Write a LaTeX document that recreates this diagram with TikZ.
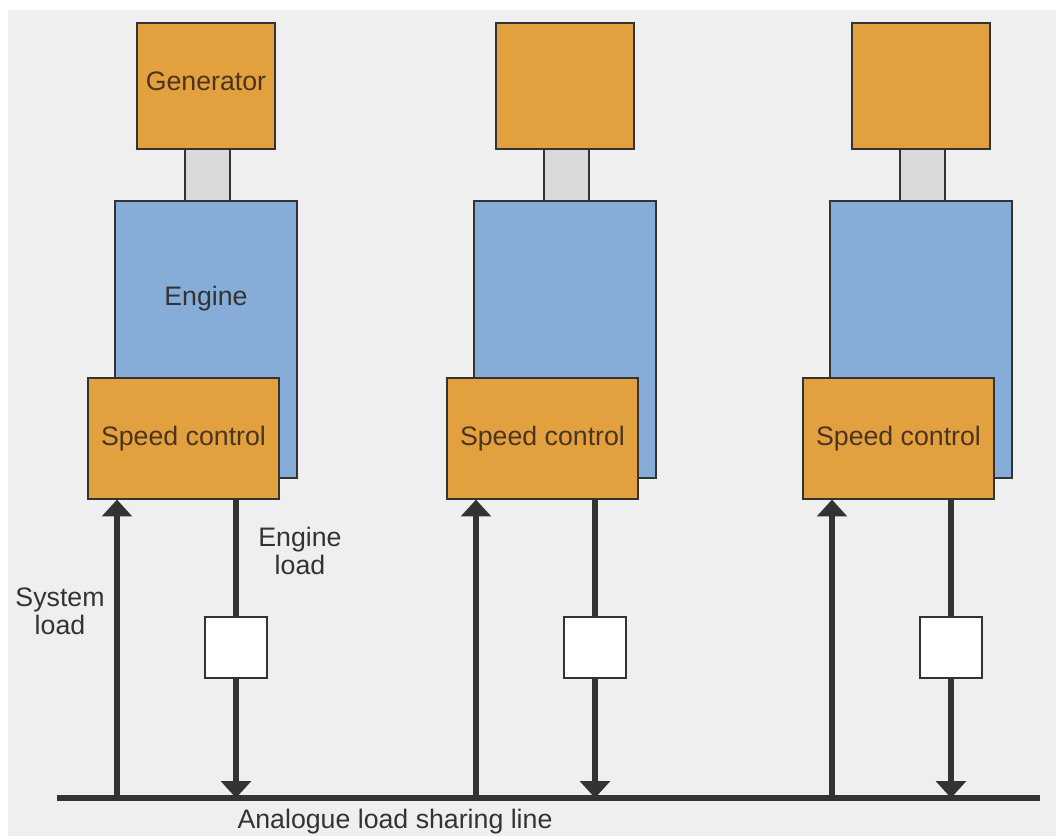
\documentclass[tikz,border=0pt]{standalone}
\usepackage{fontspec}
\setmainfont{Liberation Sans}
\usetikzlibrary{arrows.meta}

\definecolor{genorange}{HTML}{E3A03F}
\definecolor{engblue}{HTML}{86ADD7}
\definecolor{shaftgray}{HTML}{D9D9D9}
\definecolor{bggray}{HTML}{EFEFEF}
\definecolor{linegray}{HTML}{333333}
\definecolor{boxtext}{HTML}{4A3520}

\tikzset{
  unit/.style={draw=linegray, line width=0.8pt, inner sep=0pt},
  genbox/.style={unit, fill=genorange, minimum width=3.45cm, minimum height=3.15cm},
  shaftbox/.style={unit, fill=shaftgray, minimum width=1.125cm, minimum height=1.3cm},
  engbox/.style={unit, fill=engblue, minimum width=4.55cm, minimum height=6.925cm},
  spdbox/.style={unit, fill=genorange, minimum width=4.775cm, minimum height=3.025cm,
    text=boxtext, font=\fontsize{19}{21}\selectfont},
  swbox/.style={unit, fill=white, minimum width=1.55cm, minimum height=1.525cm},
  lbl/.style={text=linegray, align=center, font=\fontsize{19}{20}\selectfont},
  boxlbl/.style={text=boxtext, font=\fontsize{19}{21}\selectfont},
  loadline/.style={draw=linegray, line width=4.2pt},
  loadarrow/.style={loadline, -{Triangle[width=21pt,length=12pt]}}
}

\begin{document}
\begin{tikzpicture}[x=0.025cm, y=-0.025cm]
    % Fond
    \useasboundingbox (0,0) rectangle (1056,836);
    \fill[white] (0,0) rectangle (1056,836);
    \fill[bggray] (8,10) rectangle (1056,836);

    % Ligne de partage de charge
    \coordinate (busL) at (57,798);
    \coordinate (busR) at (1040,798);
    \draw[loadline] (busL) -- (busR);

    % Groupes
    \foreach \i/\dx in {1/0, 2/359, 3/715} {
        \node[shaftbox] (shaft\i) at (207.5+\dx,175) {};
        \node[genbox] (gen\i) at (206+\dx,86) {};
        \node[engbox] (eng\i) at (206+\dx,339.5) {};
        \node[spdbox] (spd\i) at (183.5+\dx,438.5) {Speed control};
        \node[swbox] (sw\i) at (236+\dx,647.5) {};

        % Charge systeme et charge moteur
        \coordinate (up\i) at (117+\dx,798);
        \draw[loadarrow] (up\i) -- (up\i |- spd\i.south);
        \draw[loadline] (spd\i.south -| sw\i) -- (sw\i.north);
        \draw[loadarrow] (sw\i.south) -- (sw\i |- up\i);
    }

    % Textes
    \node[boxlbl] (gentxt) at (206,81) {Generator};
    \node[boxlbl, text=linegray] (engtxt) at (206,299) {Engine};
    \node[lbl] (englbl) at (300,551) {Engine\\load};
    \node[lbl] (syslbl) at (60,611) {System\\load};
    \node[lbl] (buslbl) at (395,822) {Analogue load sharing line};
\end{tikzpicture}
\end{document}
